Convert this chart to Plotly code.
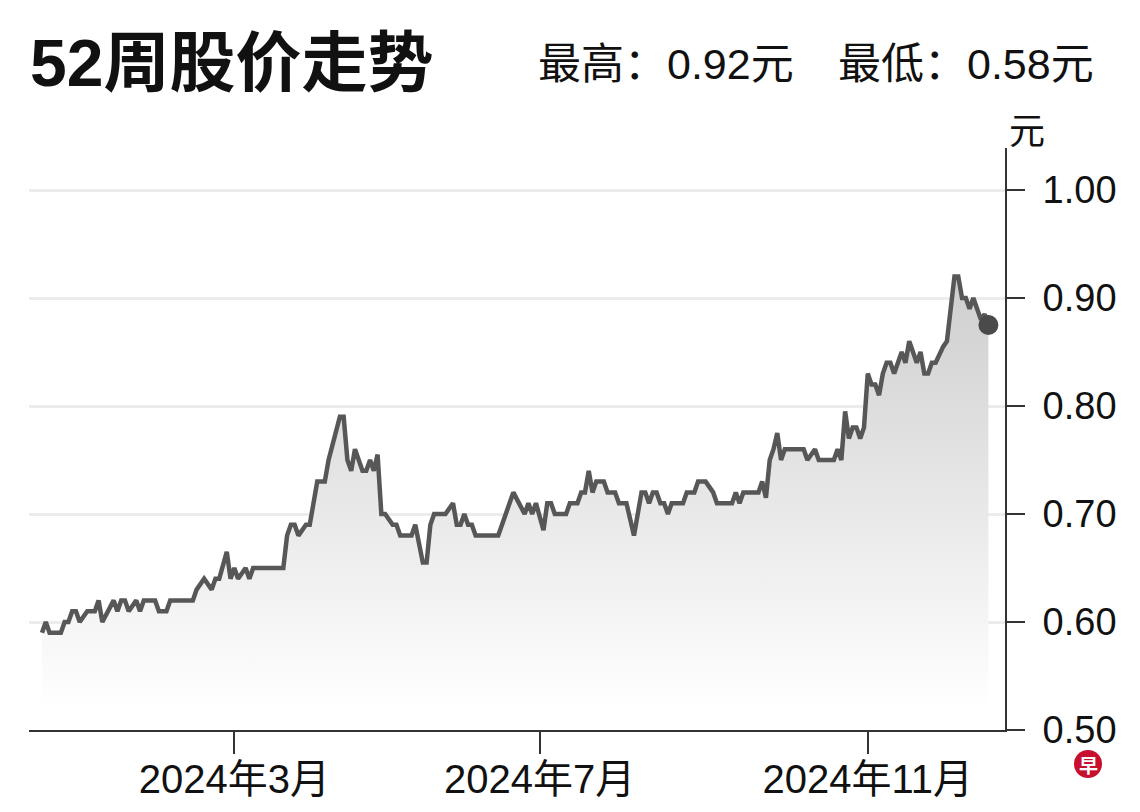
import plotly.graph_objects as go

# Trading-day index (0 = first day of the 52-week window) and closing price (元)
days = [0, 1, 2, 5, 6, 7, 8, 9, 10, 12, 14, 15, 16, 19, 20, 21, 22, 23, 25, 26,
        27, 30, 31, 33, 34, 40, 41, 43, 45, 46, 47, 49, 50, 51, 52, 54, 55, 56, 64, 65,
        66, 67, 68, 70, 71, 72, 73, 75, 76, 79, 80, 81, 82, 83, 85, 86, 87, 88, 89, 90,
        91, 93, 94, 95, 98, 99, 101, 102, 103, 104, 107, 109, 110, 111, 112, 113, 114, 115, 121, 123,
        125, 128, 129, 130, 131, 133, 134, 135, 136, 139, 140, 142, 143, 144, 145, 146, 147, 149, 150, 152,
        153, 155, 157, 159, 160, 161, 162, 163, 164, 165, 166, 167, 170, 171, 173, 174, 176, 178, 179, 183,
        184, 185, 186, 190, 191, 192, 193, 194, 195, 196, 197, 202, 203, 205, 206, 210, 211, 212, 213, 214,
        215, 216, 217, 218, 219, 220, 221, 222, 223, 224, 225, 226, 228, 229, 230, 232, 233, 234, 235, 236,
        237, 239, 240, 242, 243, 244, 245, 246, 247, 249, 250, 251]
prices = [0.59, 0.60, 0.59, 0.59, 0.60, 0.60, 0.61, 0.61, 0.60, 0.61, 0.61, 0.62, 0.60, 0.62, 0.61, 0.62, 0.62, 0.61, 0.62, 0.61,
          0.62, 0.62, 0.61, 0.61, 0.62, 0.62, 0.63, 0.64, 0.63, 0.64, 0.64, 0.665, 0.64, 0.65, 0.64, 0.65, 0.64, 0.65, 0.65, 0.68,
          0.69, 0.69, 0.68, 0.69, 0.69, 0.71, 0.73, 0.73, 0.75, 0.79, 0.79, 0.75, 0.74, 0.76, 0.74, 0.74, 0.75, 0.74, 0.755, 0.70,
          0.70, 0.69, 0.69, 0.68, 0.68, 0.69, 0.655, 0.655, 0.69, 0.70, 0.70, 0.71, 0.69, 0.69, 0.70, 0.69, 0.69, 0.68, 0.68, 0.70,
          0.72, 0.70, 0.71, 0.70, 0.71, 0.685, 0.71, 0.71, 0.70, 0.70, 0.71, 0.71, 0.72, 0.72, 0.74, 0.72, 0.73, 0.73, 0.72, 0.72,
          0.71, 0.71, 0.68, 0.72, 0.72, 0.71, 0.72, 0.72, 0.71, 0.71, 0.70, 0.71, 0.71, 0.72, 0.72, 0.73, 0.73, 0.72, 0.71, 0.71,
          0.72, 0.71, 0.72, 0.72, 0.73, 0.715, 0.75, 0.76, 0.775, 0.75, 0.76, 0.76, 0.75, 0.76, 0.75, 0.75, 0.76, 0.75, 0.795, 0.77,
          0.78, 0.78, 0.77, 0.78, 0.83, 0.82, 0.82, 0.81, 0.83, 0.84, 0.84, 0.83, 0.85, 0.84, 0.86, 0.84, 0.85, 0.83, 0.83, 0.84,
          0.84, 0.855, 0.86, 0.92, 0.92, 0.90, 0.90, 0.89, 0.90, 0.88, 0.885, 0.875]

month_ticks = [51, 132, 219]
month_labels = ["2024年3月", "2024年7月", "2024年11月"]
y_ticks = [0.50, 0.60, 0.70, 0.80, 0.90, 1.00]
y_labels = ["0.50", "0.60", "0.70", "0.80", "0.90", "1.00"]

title_text = "52周股价走势"
high_text = "最高：0.92元"
low_text = "最低：0.58元"
unit_text = "元"

SANS = "Liberation Sans, Arial, Noto Sans CJK SC, sans-serif"

# the page body adds an 8px margin, so the figure is sized to fit the window
OFF = 8
W, H = 1124, 796
L, R, T, B = 21, 127, 140, 74
pw, ph = W - L - R, H - T - B


def px(x):
    return (x - OFF - L) / pw


def py(y):
    return (H - B - (y - OFF)) / ph


fig = go.Figure()
fig.add_trace(go.Scatter(
    x=days, y=prices, mode="lines",
    line=dict(color="#575757", width=4.5),
    fill="tozeroy",
    fillgradient=dict(type="vertical",
                      colorscale=[[0, "rgb(255,255,255)"], [1, "rgb(205,205,205)"]],
                      start=0.52, stop=0.93),
    hoverinfo="skip",
))
fig.add_trace(go.Scatter(
    x=[days[-1]], y=[prices[-1]], mode="markers",
    marker=dict(color="#4a4a4a", size=20),
    hoverinfo="skip",
))

fig.update_layout(
    width=W, height=H,
    margin=dict(l=L, r=R, t=T, b=B, autoexpand=False),
    paper_bgcolor="white", plot_bgcolor="white",
    showlegend=False,
    xaxis=dict(
        range=[-3.45, 255.4],
        tickvals=month_ticks, ticktext=month_labels,
        ticks="outside", ticklen=22, tickwidth=1.5, tickcolor="#333",
        ticklabelstandoff=-9,
        showline=True, linecolor="#333", linewidth=2,
        showgrid=False, zeroline=False, automargin=False,
        tickfont=dict(family=SANS, size=40, color="#111"),
    ),
    yaxis=dict(
        side="right",
        range=[0.5, 0.5 + ph / 1080],
        tickvals=y_ticks, ticktext=y_labels,
        ticks="outside", ticklen=18, tickwidth=1.5, tickcolor="#333",
        ticklabelstandoff=10,
        showline=True, linecolor="#333", linewidth=2,
        showgrid=True, gridcolor="#ececec", gridwidth=2.5,
        zeroline=False, automargin=False,
        tickfont=dict(family=SANS, size=38, color="#111"),
    ),
)

fig.add_annotation(text="<b>" + title_text + "</b>", xref="paper", yref="paper",
                   x=px(28), y=py(63), xanchor="left", yanchor="middle", showarrow=False,
                   font=dict(family=SANS, size=66, color="#111"))
fig.add_annotation(text=high_text, xref="paper", yref="paper",
                   x=px(536), y=py(64), xanchor="left", yanchor="middle", showarrow=False,
                   font=dict(family=SANS, size=43, color="#111"))
fig.add_annotation(text=low_text, xref="paper", yref="paper",
                   x=px(836), y=py(64), xanchor="left", yanchor="middle", showarrow=False,
                   font=dict(family=SANS, size=43, color="#111"))
fig.add_annotation(text=unit_text, xref="paper", yref="paper",
                   x=px(1027), y=py(131), xanchor="center", yanchor="middle", showarrow=False,
                   font=dict(family=SANS, size=36, color="#111"))

# logo
fig.add_shape(type="circle", xref="paper", yref="paper",
              x0=px(1074), x1=px(1102), y0=py(778), y1=py(750),
              fillcolor="#c8102e", line=dict(width=0))
fig.add_annotation(text="<b>早</b>", xref="paper", yref="paper",
                   x=px(1088), y=py(764), xanchor="center", yanchor="middle", showarrow=False,
                   font=dict(family="Noto Sans CJK SC", size=19, color="white"))

fig.write_html("out.html")
